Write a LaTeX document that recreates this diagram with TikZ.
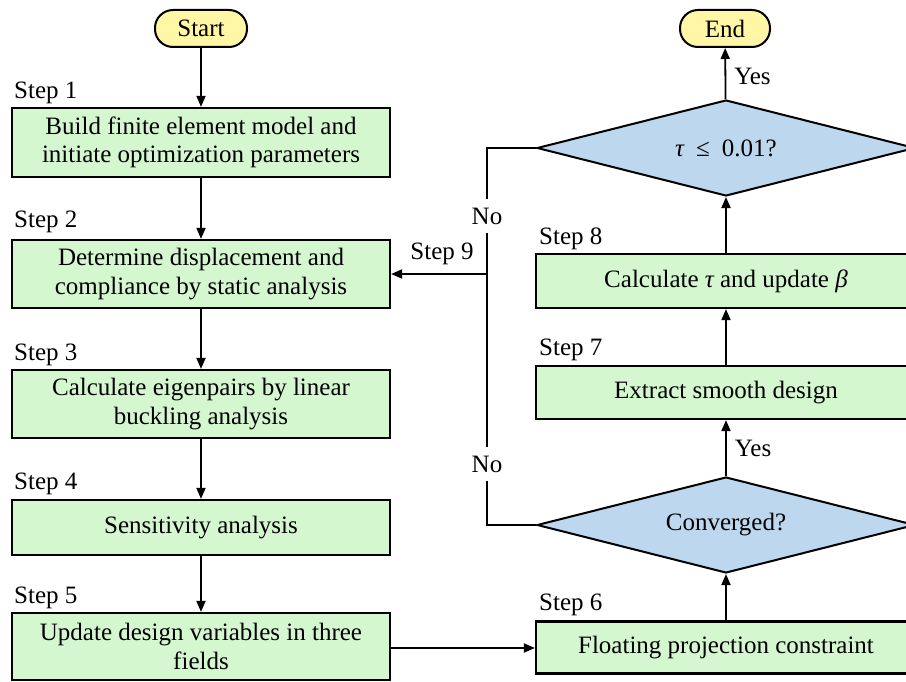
\documentclass[tikz,border=0pt]{standalone}
\usepackage{fontspec}
\setmainfont{Liberation Serif}
\usetikzlibrary{shapes.geometric,arrows.meta}
\definecolor{boxgreen}{RGB}{212,247,208}
\definecolor{diablue}{RGB}{189,215,238}
\definecolor{termyellow}{RGB}{255,247,166}
\begin{document}
\begin{tikzpicture}[x=1pt,y=-1pt,
  every node/.style={font=\fontsize{25}{28.5}\selectfont},
  stepbox/.style={draw, line width=2.2pt, fill=boxgreen, align=center, inner sep=0pt},
  leftbox/.style={stepbox, minimum width=378pt},
  rightbox/.style={stepbox, minimum width=380pt},
  decision/.style={diamond, draw, line width=2pt, fill=diablue, inner sep=0pt,
    minimum width=378pt, minimum height=96pt, aspect=3.94},
  terminal/.style={draw, line width=2pt, fill=termyellow, rounded corners=18pt,
    inner sep=0pt, minimum height=37pt},
  arr/.style={line width=1.8pt, -{Triangle[length=11pt,width=9pt]}},
  conn/.style={line width=1.8pt},
  steplbl/.style={anchor=west, inner sep=0pt},
  lbl/.style={inner sep=0pt},
  nolbl/.style={inner xsep=2pt, inner ysep=8pt}
]
\useasboundingbox (0,0) rectangle (906,682);
\clip (0,0) rectangle (906,682);

% terminals
\node[terminal, minimum width=92pt] (start) at (201,28.5) {Start};
\node[terminal, minimum width=90pt] (end) at (725,28.5) {End};

% left column
\node[leftbox, minimum height=69pt] (b1) at (201,142.5) {Build finite element model and\\initiate optimization parameters};
\node[leftbox, minimum height=68pt] (b2) at (201,274) {Determine displacement and\\compliance by static analysis};
\node[leftbox, minimum height=68pt] (b3) at (201,404) {Calculate eigenpairs by linear\\buckling analysis};
\node[leftbox, minimum height=55pt] (b4) at (201,527.5) {Sensitivity analysis};
\node[leftbox, minimum height=67pt] (b5) at (201,646.5) {Update design variables in three\\fields};

% right column
\node[rightbox, minimum height=52pt] (b6) at (726,647.5) {Floating projection constraint};
\node[decision] (d2) at (726,525) {Converged?};
\node[rightbox, minimum height=53pt] (b7) at (726,392.5) {Extract smooth design};
\node[rightbox, minimum height=54pt] (b8) at (726,281) {Calculate {\itshape τ} and update {\itshape β}};
\node[decision] (d1) at (726,148) {{\itshape τ}\hspace{12pt}≤\hspace{12pt}0.01?};

% step labels
\node[steplbl] (s1) at (14,93) {Step 1};
\node[steplbl] (s2) at (14,222) {Step 2};
\node[steplbl] (s3) at (14,355) {Step 3};
\node[steplbl] (s4) at (14,484) {Step 4};
\node[steplbl] (s5) at (14,598) {Step 5};
\node[steplbl] (s6) at (539,605) {Step 6};
\node[steplbl] (s7) at (539,350) {Step 7};
\node[steplbl] (s8) at (539,239) {Step 8};
\node[lbl] (s9) at (442,254) {Step 9};

% left column arrows
\draw[arr] (start) -- (b1);
\draw[arr] (b1) -- (b2);
\draw[arr] (b2) -- (b3);
\draw[arr] (b3) -- (b4);
\draw[arr] (b4) -- (b5);
\draw[arr] (b5.east |- 0,648) -- (b6.west |- 0,648);

% right column arrows
\draw[arr] (b6) -- (d2);
\draw[arr] (d2) -- node[right, lbl, xshift=8pt] (y2) {Yes} (b7);
\draw[arr] (b7) -- (b8);
\draw[arr] (b8) -- (d1);
\draw[arr] (d1) -- node[right, lbl, xshift=8pt, pos=0.45] (y1) {Yes} (end);

% No loop
\node[nolbl] (no1) at (487,216) {No};
\node[nolbl] (no2) at (487,464) {No};
\coordinate (j) at (487,274);
\draw[conn] (d1.west) -| (no1.north);
\draw[conn] (no1.south) -- (no2.north);
\draw[conn] (no2.south) |- (d2.west);
\draw[arr] (j) -- (b2.east |- j);
\end{tikzpicture}
\end{document}
